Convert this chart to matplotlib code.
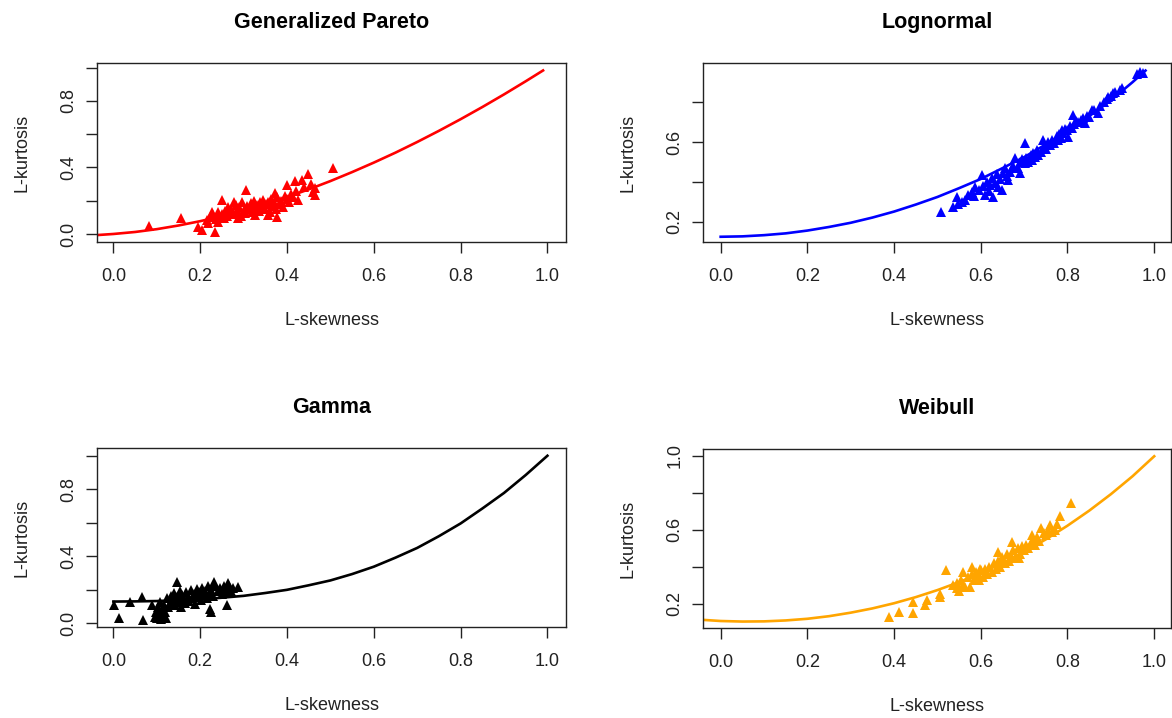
import matplotlib.pyplot as plt

plt.rcParams['font.family'] = ['Liberation Sans', 'DejaVu Sans']

# theoretical L-moment ratio curves (L-skewness, L-kurtosis)
gpa_t3 = [-0.04, 0.0, 0.05, 0.1, 0.15, 0.2, 0.25, 0.3, 0.35, 0.4, 0.45, 0.5,
          0.55, 0.6, 0.65, 0.7, 0.75, 0.8, 0.85, 0.9, 0.95, 0.99]
gpa_t4 = [-0.007, 0.0, 0.012, 0.029, 0.051, 0.077, 0.107, 0.142, 0.180, 0.222,
          0.268, 0.318, 0.372, 0.429, 0.489, 0.553, 0.620, 0.690, 0.763, 0.839,
          0.918, 0.983]

lno_t3 = [0.0, 0.05, 0.1, 0.15, 0.2, 0.25, 0.3, 0.35, 0.4, 0.45, 0.5, 0.55,
          0.6, 0.65, 0.7, 0.75, 0.8, 0.85, 0.9, 0.95, 0.98]
lno_t4 = [0.126, 0.128, 0.134, 0.143, 0.157, 0.175, 0.196, 0.222, 0.252, 0.287,
          0.325, 0.369, 0.415, 0.469, 0.524, 0.588, 0.653, 0.729, 0.808, 0.899,
          0.957]

gam_t3 = [0.0, 0.05, 0.1, 0.15, 0.2, 0.25, 0.3, 0.35, 0.4, 0.45, 0.5, 0.55,
          0.6, 0.65, 0.7, 0.75, 0.8, 0.85, 0.9, 0.95, 1.0]
gam_t4 = [0.130, 0.131, 0.133, 0.138, 0.143, 0.153, 0.164, 0.181, 0.200, 0.227,
          0.256, 0.294, 0.338, 0.392, 0.450, 0.520, 0.596, 0.685, 0.778, 0.885,
          1.0]

wei_t3 = [-0.04, 0.0, 0.05, 0.1, 0.15, 0.2, 0.25, 0.3, 0.35, 0.4, 0.45, 0.5,
          0.55, 0.6, 0.65, 0.7, 0.75, 0.8, 0.85, 0.9, 0.95, 1.0]
wei_t4 = [0.113, 0.107, 0.104, 0.105, 0.110, 0.119, 0.133, 0.152, 0.175, 0.203,
          0.236, 0.274, 0.317, 0.366, 0.420, 0.481, 0.548, 0.622, 0.703, 0.792,
          0.889, 0.997]

# sample L-moment ratios of the stations
gpa_x = [0.081, 0.155, 0.196, 0.204, 0.234, 0.227, 0.251, 0.305, 0.277, 0.376,
         0.373, 0.400, 0.419, 0.448, 0.434, 0.507, 0.465, 0.465, 0.426, 0.357,
         0.327, 0.288, 0.242, 0.219, 0.215, 0.222, 0.230, 0.236, 0.240, 0.245,
         0.250, 0.255, 0.258, 0.262, 0.265, 0.270, 0.272, 0.278, 0.282, 0.285,
         0.290, 0.293, 0.297, 0.300, 0.303, 0.308, 0.312, 0.316, 0.320, 0.323,
         0.327, 0.331, 0.335, 0.338, 0.342, 0.345, 0.349, 0.352, 0.356, 0.360,
         0.363, 0.366, 0.370, 0.374, 0.378, 0.382, 0.386, 0.390, 0.395, 0.400,
         0.405, 0.410, 0.415, 0.420, 0.440, 0.455, 0.460]
gpa_y = [0.050, 0.094, 0.044, 0.024, 0.010, 0.134, 0.204, 0.265, 0.194, 0.104,
         0.245, 0.295, 0.319, 0.359, 0.325, 0.399, 0.235, 0.275, 0.204, 0.114,
         0.114, 0.094, 0.074, 0.064, 0.085, 0.100, 0.115, 0.090, 0.130, 0.105,
         0.120, 0.095, 0.140, 0.110, 0.160, 0.130, 0.150, 0.120, 0.175, 0.140,
         0.160, 0.110, 0.190, 0.145, 0.125, 0.170, 0.150, 0.185, 0.135, 0.200,
         0.160, 0.175, 0.140, 0.190, 0.165, 0.205, 0.150, 0.180, 0.195, 0.135,
         0.210, 0.170, 0.190, 0.150, 0.220, 0.180, 0.200, 0.165, 0.230, 0.210,
         0.190, 0.240, 0.225, 0.260, 0.280, 0.300, 0.255]

lno_x = [0.508, 0.537, 0.544, 0.564, 0.579, 0.587, 0.602, 0.610, 0.629, 0.621,
         0.640, 0.652, 0.663, 0.671, 0.679, 0.690, 0.702, 0.702, 0.717, 0.733,
         0.744, 0.760, 0.779, 0.787, 0.802, 0.813, 0.825, 0.840, 0.856, 0.871,
         0.894, 0.906, 0.925, 0.967, 0.975, 0.548, 0.556, 0.570, 0.585, 0.595,
         0.605, 0.615, 0.618, 0.625, 0.632, 0.638, 0.645, 0.648, 0.655, 0.660,
         0.668, 0.675, 0.685, 0.690, 0.695, 0.705, 0.710, 0.715, 0.720, 0.725,
         0.730, 0.738, 0.745, 0.750, 0.755, 0.765, 0.770, 0.775, 0.780, 0.785,
         0.790, 0.795, 0.800, 0.805, 0.810, 0.815, 0.820, 0.830, 0.835, 0.845,
         0.850, 0.862, 0.875, 0.885, 0.890, 0.900, 0.910, 0.920, 0.960]
lno_y = [0.252, 0.277, 0.327, 0.310, 0.352, 0.377, 0.435, 0.335, 0.327, 0.385,
         0.377, 0.443, 0.410, 0.468, 0.518, 0.443, 0.593, 0.493, 0.510, 0.535,
         0.610, 0.585, 0.610, 0.660, 0.627, 0.735, 0.700, 0.693, 0.760, 0.743,
         0.827, 0.843, 0.868, 0.951, 0.943, 0.290, 0.300, 0.335, 0.330, 0.360,
         0.380, 0.400, 0.355, 0.420, 0.395, 0.440, 0.415, 0.360, 0.470, 0.430,
         0.450, 0.480, 0.470, 0.500, 0.515, 0.520, 0.500, 0.535, 0.545, 0.525,
         0.560, 0.550, 0.575, 0.565, 0.600, 0.610, 0.595, 0.630, 0.640, 0.620,
         0.645, 0.665, 0.660, 0.680, 0.670, 0.690, 0.705, 0.710, 0.720, 0.730,
         0.725, 0.760, 0.780, 0.800, 0.815, 0.830, 0.850, 0.860, 0.940]

gam_x = [0.002, 0.013, 0.039, 0.065, 0.069, 0.146, 0.225, 0.223, 0.261, 0.288,
         0.265, 0.232, 0.090, 0.095, 0.098, 0.100, 0.102, 0.105, 0.107, 0.110,
         0.112, 0.115, 0.117, 0.120, 0.122, 0.124, 0.126, 0.130, 0.133, 0.136,
         0.140, 0.143, 0.147, 0.150, 0.153, 0.156, 0.158, 0.162, 0.165, 0.168,
         0.172, 0.175, 0.178, 0.182, 0.185, 0.188, 0.192, 0.195, 0.198, 0.202,
         0.205, 0.208, 0.212, 0.215, 0.218, 0.222, 0.226, 0.230, 0.235, 0.240,
         0.245, 0.250, 0.255, 0.258, 0.262, 0.266, 0.270, 0.275]
gam_y = [0.109, 0.030, 0.129, 0.155, 0.020, 0.248, 0.069, 0.085, 0.109, 0.218,
         0.238, 0.245, 0.110, 0.040, 0.070, 0.030, 0.095, 0.055, 0.130, 0.025,
         0.080, 0.045, 0.110, 0.065, 0.030, 0.150, 0.095, 0.120, 0.165, 0.140,
         0.180, 0.110, 0.155, 0.130, 0.190, 0.100, 0.170, 0.145, 0.120, 0.185,
         0.160, 0.135, 0.200, 0.150, 0.175, 0.115, 0.205, 0.160, 0.185, 0.140,
         0.210, 0.170, 0.190, 0.150, 0.220, 0.180, 0.200, 0.165, 0.225, 0.190,
         0.210, 0.175, 0.225, 0.200, 0.185, 0.220, 0.195, 0.210]

wei_x = [0.388, 0.411, 0.444, 0.444, 0.471, 0.475, 0.506, 0.506, 0.519, 0.544,
         0.560, 0.579, 0.564, 0.598, 0.596, 0.640, 0.648, 0.671, 0.687, 0.717,
         0.740, 0.760, 0.783, 0.771, 0.808, 0.535, 0.545, 0.550, 0.555, 0.560,
         0.570, 0.575, 0.580, 0.585, 0.590, 0.595, 0.600, 0.605, 0.610, 0.615,
         0.620, 0.625, 0.630, 0.635, 0.640, 0.645, 0.650, 0.655, 0.660, 0.665,
         0.670, 0.675, 0.680, 0.685, 0.690, 0.695, 0.700, 0.705, 0.710, 0.715,
         0.720, 0.725, 0.730, 0.735, 0.745, 0.750, 0.755, 0.765, 0.775]
wei_y = [0.130, 0.157, 0.148, 0.208, 0.193, 0.220, 0.238, 0.255, 0.382, 0.283,
         0.373, 0.400, 0.292, 0.390, 0.328, 0.481, 0.454, 0.535, 0.445, 0.571,
         0.608, 0.625, 0.674, 0.598, 0.743, 0.300, 0.310, 0.270, 0.330, 0.300,
         0.345, 0.290, 0.360, 0.330, 0.370, 0.350, 0.380, 0.345, 0.390, 0.360,
         0.400, 0.370, 0.420, 0.390, 0.430, 0.400, 0.440, 0.420, 0.470, 0.430,
         0.460, 0.490, 0.450, 0.500, 0.470, 0.510, 0.490, 0.520, 0.500, 0.530,
         0.550, 0.520, 0.560, 0.540, 0.580, 0.570, 0.600, 0.590, 0.630]

xticks = [0.0, 0.2, 0.4, 0.6, 0.8, 1.0]
xticklabels = ['0.0', '0.2', '0.4', '0.6', '0.8', '1.0']

fig = plt.figure(figsize=(11.72, 7.18), dpi=100)


def panel(rect, title, cx, cy, px, py, col, xlim, ylim, yticks, ylabels):
    ax = fig.add_axes(rect)
    ax.plot(cx, cy, color=col, lw=1.9, zorder=2)
    ax.plot(px, py, '^', color=col, ms=7, mew=0, zorder=3)
    ax.set_xlim(xlim)
    ax.set_ylim(ylim)
    ax.set_xticks(xticks)
    ax.set_xticklabels(xticklabels)
    ax.set_yticks(yticks)
    ax.set_yticklabels(ylabels)
    for s in ax.spines.values():
        s.set_linewidth(1.0)
        s.set_color('#222222')
    ax.tick_params(direction='out', length=8, width=1.0, color='#222222',
                   labelsize=13, labelcolor='#222222')
    ax.tick_params(axis='x', pad=10.5)
    ax.tick_params(axis='y', pad=6, labelrotation=90)
    for lab in ax.get_yticklabels():
        lab.set_va('center')
    ax.set_title(title, fontsize=15.5, fontweight='bold', pad=25)
    ax.set_xlabel('L-skewness', fontsize=13, color='#222222')
    ax.set_ylabel('L-kurtosis', fontsize=13, color='#222222')
    ax.xaxis.set_label_coords(0.5, -0.389)
    ax.yaxis.set_label_coords(-0.142, 0.5)
    return ax


panel([0.0828, 0.6630, 0.4002, 0.2493], 'Generalized Pareto', gpa_t3, gpa_t4,
      gpa_x, gpa_y, '#FF0000', (-0.0376, 1.043), (-0.048, 1.028),
      [0.0, 0.2, 0.4, 0.6, 0.8, 1.0], ['0.0', '', '0.4', '', '0.8', ''])
panel([0.5998, 0.6630, 0.3993, 0.2493], 'Lognormal', lno_t3, lno_t4,
      lno_x, lno_y, '#0000FF', (-0.0408, 1.0386), (0.100, 0.995),
      [0.2, 0.4, 0.6, 0.8], ['0.2', '', '0.6', ''])
panel([0.0828, 0.1267, 0.4002, 0.2493], 'Gamma', gam_t3, gam_t4,
      gam_x, gam_y, '#000000', (-0.0376, 1.043), (-0.022, 1.046),
      [0.0, 0.2, 0.4, 0.6, 0.8, 1.0], ['0.0', '', '0.4', '', '0.8', ''])
panel([0.5998, 0.1253, 0.3993, 0.2493], 'Weibull', wei_t3, wei_t4,
      wei_x, wei_y, '#FFA500', (-0.0408, 1.0386), (0.069, 1.036),
      [0.2, 0.4, 0.6, 0.8, 1.0], ['0.2', '', '0.6', '', '1.0'])

fig.savefig('out.png', dpi=100, facecolor='white')
